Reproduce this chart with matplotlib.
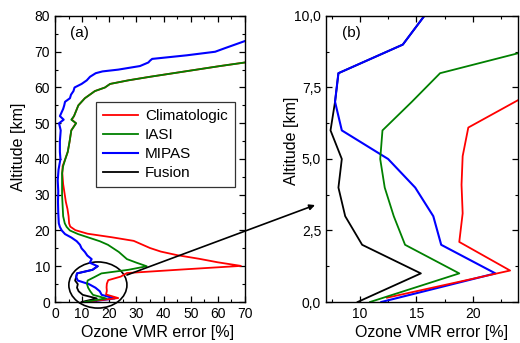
import matplotlib
matplotlib.use("Agg")
import matplotlib.pyplot as plt
from matplotlib.patches import Ellipse, ConnectionPatch
from matplotlib.ticker import MultipleLocator, FuncFormatter

plt.rcParams['font.family'] = ['Liberation Sans', 'DejaVu Sans']

# ---- data (altitude km, error %) ----
clim_alt = [0.15, 1.1, 2.1, 3.1, 4.1, 5.1, 6.1, 7.1, 8.1, 9.1, 10.1, 11.1, 12.1, 13.1, 14.1,
            15.1, 16.1, 17.1, 18.1, 19.1, 20.1, 21.1, 22, 24, 26, 28, 30, 33, 36, 38, 40, 42,
            45, 48, 50, 51, 52, 55, 57, 59, 60, 61, 62, 63, 64, 65, 66, 67]
clim_val = [12.4, 23.3, 18.8, 19.1, 19.0, 19.1, 19.6, 24.2, 26.5, 47, 68.5, 60, 53, 45, 39,
            35, 32, 29, 21, 12, 7.5, 5.6, 5.2, 5.0, 4.6, 4.0, 3.6, 3.0, 2.7, 2.8, 3.8, 4.7,
            5.4, 6.0, 7.7, 6.2, 7.0, 8.6, 11, 14.7, 18.4, 20.3, 27, 35, 43.6, 52.2, 60.8, 70]

iasi_alt = [0, 1, 2, 3, 4, 5, 6, 7, 8, 9, 10, 11, 12, 13, 14, 15, 16, 17, 18, 19, 20, 21, 22,
            24, 27, 30, 33, 36, 38, 40, 42, 45, 48, 50, 51, 52, 55, 57, 59, 60, 61, 62, 63,
            64, 65, 66, 67]
iasi_val = [10.9, 18.8, 14.0, 13.0, 12.2, 11.8, 12.0, 14.6, 17.1, 27.0, 33.8, 30.0, 26.5,
            25.0, 23.5, 21.5, 19.5, 16.5, 12.5, 8.5, 5.5, 4.3, 3.6, 3.0, 2.8, 2.6, 2.6, 2.6,
            3.0, 3.8, 4.7, 5.4, 6.0, 7.8, 6.0, 7.0, 8.6, 11, 14.7, 18.4, 20.3, 27, 35, 43.6,
            52.2, 60.8, 70]

mipas_alt = [0, 1, 2, 3, 4, 5, 6, 7, 8, 9, 10, 11, 12, 13, 14, 15, 16, 17, 18, 19, 20, 21, 22,
             25, 28, 31, 34, 37, 40, 42, 45, 48, 50, 51, 52, 53, 54, 55, 56, 57, 58, 59, 60,
             61, 62, 63, 64, 64.5, 65, 66, 67, 67.5, 68, 69, 70, 71, 72, 73]
mipas_val = [11.9, 22.0, 17.2, 16.5, 14.9, 12.5, 8.4, 7.8, 8.1, 13.8, 15.7, 12.8, 13.5, 11.9,
             11.0, 9.8, 9.2, 8.0, 6.1, 3.7, 2.5, 1.8, 1.4, 1.2, 1.1, 1.2, 1.0, 1.3, 2.0, 1.8,
             1.8, 2.1, 1.5, 3.2, 1.8, 2.4, 3.0, 3.4, 3.7, 5.5, 5.9, 6.8, 7.2, 9.8, 11.7, 12.9,
             15.0, 17.5, 23.3, 31.3, 34.4, 35.0, 35.8, 48.5, 59, 62.6, 66.3, 70]

fusion_alt = [0, 1, 2, 3, 4, 5, 6, 7, 8, 9, 10]
fusion_val = [9.8, 15.4, 10.2, 8.7, 8.1, 8.4, 7.4, 7.8, 8.1, 13.8, 15.7]

labels = ['Climatologic', 'IASI', 'MIPAS', 'Fusion']
colors = ['#ff0000', '#008000', '#0000ff', '#000000']

fig = plt.figure(figsize=(5.2, 3.43), dpi=100)
W, H = 520, 343
ax1 = fig.add_axes([55 / W, (H - 302) / H, 190 / W, 286 / H])
ax2 = fig.add_axes([326 / W, (H - 302) / H, 192 / W, 286 / H])


def draw(ax):
    lf, = ax.plot(fusion_val, fusion_alt, color=colors[3], lw=1.3, label=labels[3])
    lm, = ax.plot(mipas_val, mipas_alt, color=colors[2], lw=1.5, label=labels[2])
    lc, = ax.plot(clim_val, clim_alt, color=colors[0], lw=1.3, label=labels[0])
    li, = ax.plot(iasi_val, iasi_alt, color=colors[1], lw=1.3, label=labels[1])
    return [lc, li, lm, lf]


handles = draw(ax1)
draw(ax2)

for ax in (ax1, ax2):
    ax.tick_params(which='both', direction='in', top=True, right=True, labelsize=10)
    ax.tick_params(which='major', length=4, width=0.9)
    ax.tick_params(which='minor', length=2, width=0.8)
    for s in ax.spines.values():
        s.set_linewidth(1.0)

ax1.set_xlim(0, 70)
ax1.set_ylim(0, 80)
ax1.xaxis.set_major_locator(MultipleLocator(10))
ax1.xaxis.set_minor_locator(MultipleLocator(5))
ax1.yaxis.set_major_locator(MultipleLocator(10))
ax1.yaxis.set_minor_locator(MultipleLocator(5))

ax2.set_xlim(7, 24)
ax2.set_ylim(0, 10)
ax2.xaxis.set_major_locator(MultipleLocator(5))
ax2.xaxis.set_minor_locator(MultipleLocator(2.5))
ax2.yaxis.set_major_locator(MultipleLocator(2.5))
ax2.yaxis.set_minor_locator(MultipleLocator(1.25))
ax2.yaxis.set_major_formatter(FuncFormatter(lambda v, p: f"{v:.1f}".replace('.', ',')))

for ax, xl in ((ax1, 0.542), (ax2, 0.55)):
    ax.set_xlabel('Ozone VMR error [%]', fontsize=11.5)
    ax.set_ylabel('Altitude [km]', fontsize=11.5)
    ax.xaxis.set_label_coords(xl, -0.08)
ax1.yaxis.set_label_coords(-0.155, 0.542)
ax2.yaxis.set_label_coords(-0.14, 0.563)

ax1.text(0.126, 0.94, '(a)', transform=ax1.transAxes, fontsize=11, ha='center', va='center')
ax2.text(0.13, 0.94, '(b)', transform=ax2.transAxes, fontsize=11, ha='center', va='center')

leg = ax1.legend(handles=handles, loc='upper left', bbox_to_anchor=(0.216, 0.699),
                 fontsize=11, frameon=True, fancybox=False, edgecolor='black',
                 handlelength=2.3, handletextpad=0.45, labelspacing=0.33,
                 borderpad=0.45, borderaxespad=0)
leg.get_frame().set_linewidth(0.9)

ell = Ellipse((15.8, 4.75), 21.4, 12.9, fill=False, edgecolor='black', lw=1.2, clip_on=False)
ax1.add_patch(ell)

con = ConnectionPatch(xyA=(26.5, 7.55), coordsA=ax1.transData,
                      xyB=(6.03, 3.39), coordsB=ax2.transData,
                      arrowstyle='-|>', mutation_scale=8, lw=1.2, color='black')
fig.add_artist(con)

fig.savefig('out.png', dpi=100)
